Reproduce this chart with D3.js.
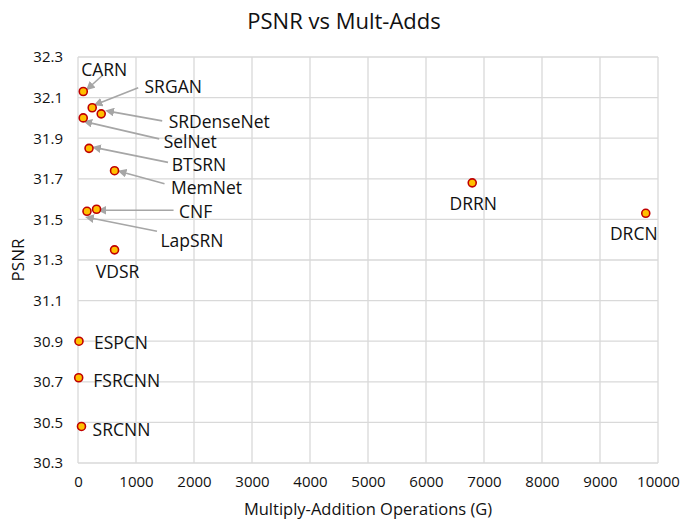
<!DOCTYPE html>
<html>
<head>
<meta charset="utf-8">
<script src="https://cdn.jsdelivr.net/npm/d3@7"></script>
<style>
  body { margin: 0; background: #fff; }
  text { font-family: "Open Sans", sans-serif; fill: #111; }
</style>
</head>
<body>
<div id="chart"></div>
<script>
// data
var models = ["CARN", "SRGAN", "SRDenseNet", "SelNet", "BTSRN", "MemNet", "CNF", "LapSRN", "VDSR", "ESPCN", "FSRCNN", "SRCNN", "DRRN", "DRCN"];
var multAdds = [91, 245, 400, 90, 190, 630, 320, 155, 630, 17, 12, 60, 6797, 9789];
var psnr = [32.13, 32.05, 32.02, 32.00, 31.85, 31.74, 31.55, 31.54, 31.35, 30.90, 30.72, 30.48, 31.68, 31.53];
var xTicks = [0, 1000, 2000, 3000, 4000, 5000, 6000, 7000, 8000, 9000, 10000];
var yTicks = [30.3, 30.5, 30.7, 30.9, 31.1, 31.3, 31.5, 31.7, 31.9, 32.1, 32.3];

// label placement (pixel offsets from the point), arrows where used
var labelOffset = [[21,-23],[81,-22],[118,7],[107,23],[110,16],[92,16],[99,2],[105,29],[3,21],[42,1],[48,2],[40,3],[1,20],[-12,20]];
var arrowFrom = [[19,-16],[46,-20],[61,7],[76,21],[79,14],[50,13],[77,1],[70,20],null,null,null,null,null,null];
var arrowTo = [[8,-6],[8,-5],[11,-2],[7,5],[10,0],[10,2],[8,1],[5,7],null,null,null,null,null,null];

var W = 681, H = 520;
var margin = {top: 57, right: 23, bottom: 57, left: 78};
var width = W - margin.left - margin.right,
    height = H - margin.top - margin.bottom;

var svg = d3.select("#chart").append("svg")
    .attr("width", W).attr("height", H);

svg.append("defs").append("marker")
    .attr("id", "arr")
    .attr("viewBox", "0 0 10 10")
    .attr("refX", 2).attr("refY", 5)
    .attr("markerWidth", 5.5).attr("markerHeight", 5.5)
    .attr("markerUnits", "strokeWidth")
    .attr("orient", "auto")
  .append("path")
    .attr("d", "M0,0L10,5L0,10z")
    .attr("fill", "#a6a6a6");

var g = svg.append("g")
    .attr("transform", "translate(" + margin.left + "," + margin.top + ")");

var x = d3.scaleLinear().domain([0, 10000]).range([0, width]);
var y = d3.scaleLinear().domain([30.3, 32.3]).range([height, 0]);

// gridlines
g.append("g").selectAll("line").data(xTicks).enter().append("line")
    .attr("x1", function(d) { return x(d); }).attr("x2", function(d) { return x(d); })
    .attr("y1", 0).attr("y2", height)
    .attr("stroke", "#d9d9d9").attr("stroke-width", 1.3);
g.append("g").selectAll("line").data(yTicks).enter().append("line")
    .attr("x1", 0).attr("x2", width)
    .attr("y1", function(d) { return y(d); }).attr("y2", function(d) { return y(d); })
    .attr("stroke", "#d9d9d9").attr("stroke-width", 1.3);

// axes (labels only)
var xAxis = g.append("g")
    .attr("transform", "translate(0," + height + ")")
    .call(d3.axisBottom(x).tickValues(xTicks).tickFormat(d3.format("d")).tickSize(0).tickPadding(13));
var yAxis = g.append("g")
    .call(d3.axisLeft(y).tickValues(yTicks).tickFormat(d3.format(".1f")).tickSize(0).tickPadding(15));
[xAxis, yAxis].forEach(function(a) {
  a.select(".domain").remove();
  a.selectAll("text").style("font-size", "15px").style("font-family", "Open Sans, sans-serif").attr("fill", "#111");
});

// arrows
var idx = d3.range(models.length);
g.append("g").selectAll("line").data(idx.filter(function(i) { return arrowFrom[i]; })).enter().append("line")
    .attr("x1", function(i) { return x(multAdds[i]) + arrowFrom[i][0]; })
    .attr("y1", function(i) { return y(psnr[i]) + arrowFrom[i][1]; })
    .attr("x2", function(i) { return x(multAdds[i]) + arrowTo[i][0]; })
    .attr("y2", function(i) { return y(psnr[i]) + arrowTo[i][1]; })
    .attr("stroke", "#a6a6a6").attr("stroke-width", 1.6)
    .attr("marker-end", "url(#arr)");

// points
g.append("g").selectAll("circle").data(idx).enter().append("circle")
    .attr("cx", function(i) { return x(multAdds[i]); })
    .attr("cy", function(i) { return y(psnr[i]); })
    .attr("r", 4)
    .attr("fill", "#ffc000")
    .attr("stroke", "#c00000")
    .attr("stroke-width", 1.6);

// labels
g.append("g").selectAll("text").data(idx).enter().append("text")
    .attr("x", function(i) { return x(multAdds[i]) + labelOffset[i][0]; })
    .attr("y", function(i) { return y(psnr[i]) + labelOffset[i][1]; })
    .attr("text-anchor", "middle")
    .attr("dominant-baseline", "central")
    .style("font-size", "17.5px")
    .text(function(i) { return models[i]; });

// titles
svg.append("text")
    .attr("x", 344).attr("y", 20)
    .attr("text-anchor", "middle").attr("dominant-baseline", "central")
    .style("font-size", "22px")
    .text("PSNR vs Mult-Adds");
svg.append("text")
    .attr("x", margin.left + width / 2).attr("y", 515)
    .attr("text-anchor", "middle")
    .style("font-size", "16.5px")
    .text("Multiply-Addition Operations (G)");
svg.append("text")
    .attr("transform", "translate(17," + (margin.top + height / 2) + ") rotate(-90)")
    .attr("text-anchor", "middle").attr("dominant-baseline", "central")
    .style("font-size", "17px")
    .text("PSNR");
</script>
</body>
</html>
